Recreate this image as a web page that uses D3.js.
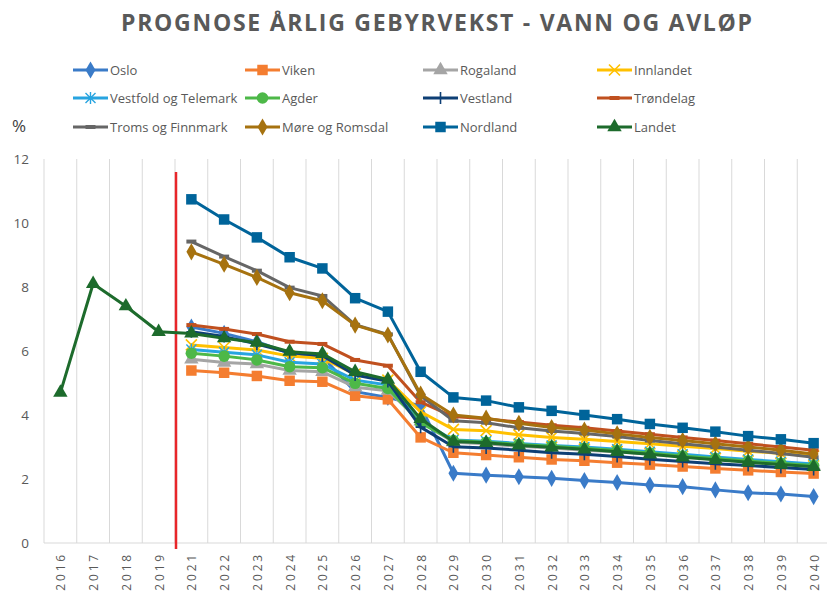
<!DOCTYPE html>
<html>
<head>
<meta charset="utf-8">
<script src="https://cdn.jsdelivr.net/npm/d3@7"></script>
<style>
  body { margin: 0; background: #fff; }
  svg { display: block; font-family: "Open Sans", "DejaVu Sans", sans-serif; }
</style>
</head>
<body>
<div id="chart"></div>
<script>
// years on the category axis (2020 is not in the source chart)
const years = ["2016","2017","2018","2019","2021","2022","2023","2024","2025","2026","2027","2028",
  "2029","2030","2031","2032","2033","2034","2035","2036","2037","2038","2039","2040"];
const yTicks = [0, 2, 4, 6, 8, 10, 12];

// forecast values 2021-2040 (percent)
const oslo       = [6.75, 6.55, 6.29, 5.93, 5.82, 4.73, 4.55, 4.28, 2.18, 2.12, 2.07, 2.02, 1.95, 1.89, 1.81, 1.76, 1.66, 1.57, 1.53, 1.45];
const viken      = [5.39, 5.32, 5.22, 5.07, 5.04, 4.60, 4.49, 3.30, 2.82, 2.75, 2.68, 2.61, 2.57, 2.51, 2.45, 2.39, 2.33, 2.27, 2.22, 2.17];
const rogaland   = [5.74, 5.64, 5.59, 5.39, 5.35, 4.87, 4.76, 3.80, 3.15, 3.10, 3.02, 2.97, 2.90, 2.85, 2.77, 2.71, 2.63, 2.55, 2.48, 2.42];
const innlandet  = [6.19, 6.11, 6.03, 5.84, 5.77, 5.28, 5.09, 4.10, 3.55, 3.51, 3.38, 3.30, 3.24, 3.17, 3.10, 3.02, 2.95, 2.87, 2.80, 2.72];
const vestfold   = [6.05, 5.96, 5.88, 5.65, 5.59, 5.09, 4.94, 3.80, 3.22, 3.18, 3.11, 3.05, 3.00, 2.93, 2.85, 2.77, 2.69, 2.61, 2.54, 2.47];
const agder      = [5.93, 5.84, 5.72, 5.51, 5.48, 4.99, 4.83, 3.75, 3.20, 3.15, 3.08, 3.02, 2.96, 2.89, 2.81, 2.72, 2.64, 2.56, 2.49, 2.42];
const vestland   = [6.60, 6.45, 6.22, 5.95, 5.85, 5.25, 5.05, 3.62, 3.01, 2.97, 2.90, 2.82, 2.77, 2.70, 2.62, 2.55, 2.48, 2.42, 2.36, 2.30];
const trondelag  = [6.81, 6.69, 6.53, 6.29, 6.22, 5.72, 5.54, 4.40, 3.95, 3.88, 3.78, 3.68, 3.60, 3.50, 3.40, 3.30, 3.20, 3.10, 3.00, 2.90];
const troms      = [9.42, 8.95, 8.51, 7.98, 7.72, 6.82, 6.52, 4.60, 3.82, 3.76, 3.60, 3.50, 3.42, 3.33, 3.20, 3.10, 3.00, 2.90, 2.80, 2.68];
const more       = [9.10, 8.71, 8.30, 7.82, 7.57, 6.81, 6.50, 4.65, 4.00, 3.90, 3.74, 3.61, 3.53, 3.41, 3.30, 3.20, 3.10, 3.00, 2.90, 2.78];
const nordland   = [10.74, 10.11, 9.55, 8.93, 8.58, 7.65, 7.23, 5.35, 4.55, 4.45, 4.24, 4.13, 4.00, 3.87, 3.72, 3.60, 3.48, 3.34, 3.24, 3.12];
// Landet has history from 2016
const landetHist = [4.7, 8.1, 7.4, 6.6];
const landet     = [6.55, 6.40, 6.26, 5.98, 5.91, 5.35, 5.11, 3.88, 3.17, 3.13, 3.05, 2.99, 2.93, 2.85, 2.77, 2.68, 2.60, 2.52, 2.45, 2.38];

const seriesNames  = ["Oslo","Viken","Rogaland","Innlandet","Vestfold og Telemark","Agder","Vestland","Trøndelag","Troms og Finnmark","Møre og Romsdal","Nordland","Landet"];
const seriesColors = ["#3a7bc8","#f47d30","#a5a5a5","#ffc000","#27a4e0","#4db848","#0e3f75","#c0501f","#666666","#a6720f","#00649a","#1d6b2c"];
const seriesMarks  = ["diamond","square","triangle","x","star","circle","plus","dash","dash","diamond","square","triangle"];

const W = 827, H = 591;
const svg = d3.select("#chart").append("svg").attr("width", W).attr("height", H);

const x = d3.scaleBand().domain(years).range([44, 830]);
const y = d3.scaleLinear().domain([0, 12]).range([543, 159]);

// title
svg.append("text")
  .attr("x", 121).attr("y", 31)
  .attr("textLength", 631).attr("lengthAdjust", "spacing")
  .style("font-size", "23px").style("font-weight", "bold").style("fill", "#595959")
  .text("PROGNOSE ÅRLIG GEBYRVEKST - VANN OG AVLØP");

// vertical gridlines at category boundaries
const bounds = years.map(d => x(d)).concat([x(years[years.length - 1]) + x.bandwidth()]);
svg.append("g").selectAll("line").data(bounds).join("line")
  .attr("x1", d => d).attr("x2", d => d)
  .attr("y1", y(12)).attr("y2", y(0))
  .attr("stroke", "#d9d9d9").attr("stroke-width", 1);
svg.append("line").attr("x1", 44).attr("x2", 830).attr("y1", y(0)).attr("y2", y(0))
  .attr("stroke", "#d9d9d9").attr("stroke-width", 1);

// y axis labels
svg.append("g").selectAll("text").data(yTicks).join("text")
  .attr("x", 29).attr("y", d => y(d) + 5)
  .attr("text-anchor", "end")
  .style("font-size", "13.5px").style("fill", "#595959")
  .text(d => d);
svg.append("text").attr("x", 12).attr("y", 132)
  .style("font-size", "17px").style("fill", "#404040").text("%");

// x axis labels, rotated
svg.append("g").selectAll("text").data(years).join("text")
  .attr("transform", d => `translate(${x(d) + x.bandwidth() / 2 + 5},552) rotate(-90)`)
  .attr("text-anchor", "end")
  .style("font-size", "12px").style("letter-spacing", "2.8px").style("fill", "#595959")
  .text(d => d);

// red divider between history and forecast
svg.append("line").attr("x1", 176).attr("x2", 176).attr("y1", 172).attr("y2", 549)
  .attr("stroke", "#e8262a").attr("stroke-width", 2.5);

function marker(g, type, color) {
  if (type === "diamond") {
    g.append("path").attr("d", d3.symbol(d3.symbolDiamond, 85)()).attr("fill", color);
  } else if (type === "square") {
    g.append("path").attr("d", d3.symbol(d3.symbolSquare, 110)()).attr("fill", color);
  } else if (type === "triangle") {
    g.append("path").attr("d", d3.symbol(d3.symbolTriangle, 90)()).attr("fill", color);
  } else if (type === "circle") {
    g.append("circle").attr("r", 5.8).attr("fill", color);
  } else if (type === "x") {
    g.append("path").attr("d", "M-5.5,-5.5L5.5,5.5M-5.5,5.5L5.5,-5.5").attr("stroke", color).attr("stroke-width", 1.6);
  } else if (type === "star") {
    g.append("path").attr("d", "M-5,-5L5,5M-5,5L5,-5M0,-6L0,6").attr("stroke", color).attr("stroke-width", 1.4);
  } else if (type === "plus") {
    g.append("path").attr("d", "M-5,0L5,0M0,-6L0,6").attr("stroke", color).attr("stroke-width", 1.6);
  } else if (type === "dash") {
    g.append("path").attr("d", "M-5,0L5,0").attr("stroke", color).attr("stroke-width", 4);
  }
}

const forecastYears = years.slice(4);
const allValues = [oslo, viken, rogaland, innlandet, vestfold, agder, vestland, trondelag, troms, more, nordland, landet];
const series = seriesNames.map((name, i) => {
  let pts = forecastYears.map((yr, j) => ({ year: yr, value: allValues[i][j] }));
  if (name === "Landet") pts = years.slice(0, 4).map((yr, j) => ({ year: yr, value: landetHist[j] })).concat(pts);
  return { name, color: seriesColors[i], mark: seriesMarks[i], points: pts };
});

const line = d3.line().x(d => x(d.year) + x.bandwidth() / 2).y(d => y(d.value));

series.forEach(s => {
  const g = svg.append("g");
  g.append("path").datum(s.points).attr("d", line)
    .attr("fill", "none").attr("stroke", s.color).attr("stroke-width", 3).attr("stroke-linejoin", "round");
  s.points.forEach(p => {
    const m = g.append("g").attr("transform", `translate(${x(p.year) + x.bandwidth() / 2},${y(p.value)})`);
    marker(m, s.mark, s.color);
  });
});

// legend, 4 columns x 3 rows
const legX = [73, 245, 423, 597];
const legY = [70, 98, 127];
series.forEach((s, i) => {
  const lx = legX[i % 4], ly = legY[Math.floor(i / 4)];
  const g = svg.append("g").attr("transform", `translate(${lx},${ly})`);
  g.append("line").attr("x1", 0).attr("x2", 35).attr("y1", 0).attr("y2", 0)
    .attr("stroke", s.color).attr("stroke-width", 3);
  const m = g.append("g").attr("transform", "translate(17.5,0)");
  marker(m, s.mark, s.color);
  g.append("text").attr("x", 37).attr("y", 5)
    .style("font-size", "13px").style("fill", "#595959").text(s.name);
});
</script>
</body>
</html>
